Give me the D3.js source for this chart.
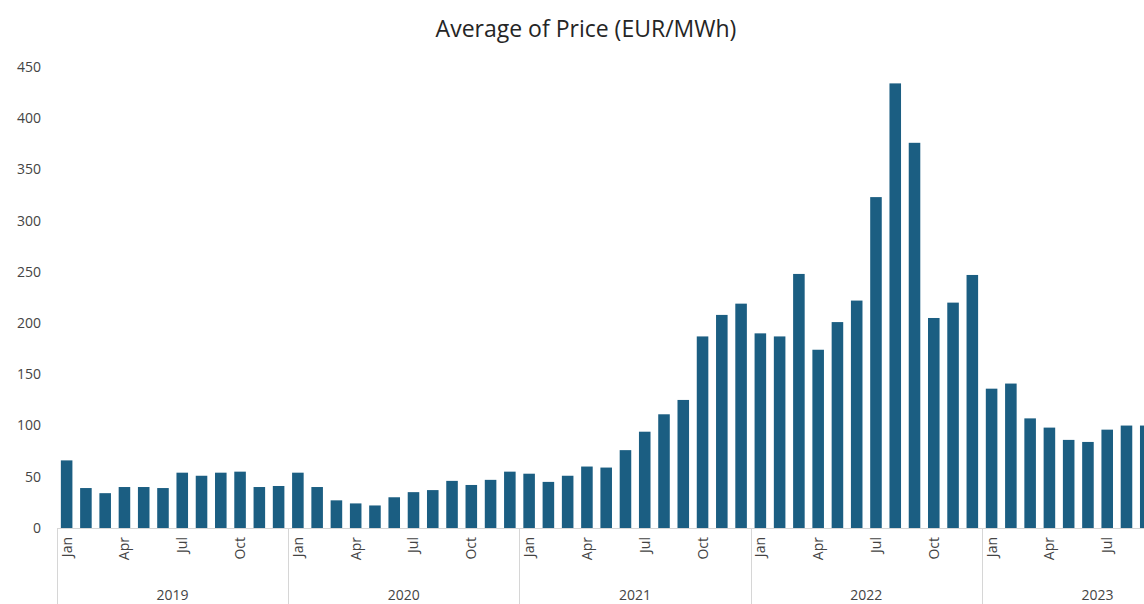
<!DOCTYPE html>
<html lang="en">
<head>
    <meta charset="UTF-8">
    <script src="https://cdn.jsdelivr.net/npm/d3@7"></script>
    <title>Average of Price (EUR/MWh)</title>
    <style>
        body { margin: 0; background: #fff; }
        svg { display: block; font-family: "Open Sans", Lato, sans-serif; }
        .title { font-size: 23px; fill: #252525; }
        .ytick { font-size: 14px; fill: #444; }
        .month { font-size: 14px; fill: #444; }
        .year { font-size: 14px; fill: #444; }
    </style>
</head>
<body>
<div class="chart"></div>
<script>
    // Data
    const years = ["2019", "2020", "2021", "2022", "2023"];
    const monthNames = ["Jan", "Feb", "Mar", "Apr", "May", "Jun", "Jul", "Aug", "Sep", "Oct", "Nov", "Dec"];
    const shownMonths = ["Jan", "Apr", "Jul", "Oct"];
    const prices2019 = [66, 39, 34, 40, 40, 39, 54, 51, 54, 55, 40, 41];
    const prices2020 = [54, 40, 27, 24, 22, 30, 35, 37, 46, 42, 47, 55];
    const prices2021 = [53, 45, 51, 60, 59, 76, 94, 111, 125, 187, 208, 219];
    const prices2022 = [190, 187, 248, 174, 201, 222, 323, 434, 376, 205, 220, 247];
    const prices2023 = [136, 141, 107, 98, 86, 84, 96, 100, 100];
    const yTicks = [0, 50, 100, 150, 200, 250, 300, 350, 400, 450];

    const series = [prices2019, prices2020, prices2021, prices2022, prices2023];
    const data = [];
    series.forEach((vals, yi) => {
        vals.forEach((v, mi) => data.push({ year: years[yi], month: monthNames[mi], key: years[yi] + "-" + mi, value: v }));
    });

    const W = 1144, H = 604;
    const x0 = 57, step = 19.27, baseY = 528, topY = 67;

    const svg = d3.select(".chart").append("svg")
        .attr("width", W)
        .attr("height", H);

    const x = d3.scaleBand()
        .domain(data.map(d => d.key))
        .range([x0, x0 + step * data.length])
        .paddingInner(0.4)
        .paddingOuter(0.2);

    const y = d3.scaleLinear()
        .domain([0, 450])
        .range([baseY, topY]);

    // Title
    svg.append("text")
        .attr("class", "title")
        .attr("x", 586)
        .attr("y", 37)
        .attr("text-anchor", "middle")
        .text("Average of Price (EUR/MWh)");

    // Y tick labels
    svg.selectAll(".ytick")
        .data(yTicks)
        .enter()
        .append("text")
        .attr("class", "ytick")
        .attr("x", 41)
        .attr("y", d => y(d))
        .attr("dy", "0.35em")
        .attr("text-anchor", "end")
        .text(d => d);

    // Bars
    svg.selectAll("rect.bar")
        .data(data)
        .enter()
        .append("rect")
        .attr("class", "bar")
        .attr("x", d => x(d.key))
        .attr("y", d => y(d.value))
        .attr("width", x.bandwidth())
        .attr("height", d => y(0) - y(d.value))
        .attr("fill", "#1b5e82");

    // Baseline
    svg.append("line")
        .attr("x1", x0)
        .attr("x2", W)
        .attr("y1", baseY + 0.5)
        .attr("y2", baseY + 0.5)
        .attr("stroke", "#d6d6d6");

    // Month labels
    svg.selectAll("text.month")
        .data(data.filter(d => shownMonths.includes(d.month)))
        .enter()
        .append("text")
        .attr("class", "month")
        .attr("transform", d => `translate(${x(d.key) + x.bandwidth() / 2 + 5},${baseY + 9}) rotate(-90)`)
        .attr("text-anchor", "end")
        .text(d => d.month);

    // Year separators and labels
    const yearStarts = years.map(yr => x(yr + "-0") - x.step() * 0.2);
    svg.selectAll("line.sep")
        .data(yearStarts)
        .enter()
        .append("line")
        .attr("class", "sep")
        .attr("x1", d => Math.round(d) + 0.5)
        .attr("x2", d => Math.round(d) + 0.5)
        .attr("y1", baseY)
        .attr("y2", H)
        .attr("stroke", "#d6d6d6");

    svg.selectAll("text.year")
        .data(years)
        .enter()
        .append("text")
        .attr("class", "year")
        .attr("x", (d, i) => yearStarts[i] + step * 6)
        .attr("y", 600)
        .attr("text-anchor", "middle")
        .text(d => d);
</script>
</body>
</html>
